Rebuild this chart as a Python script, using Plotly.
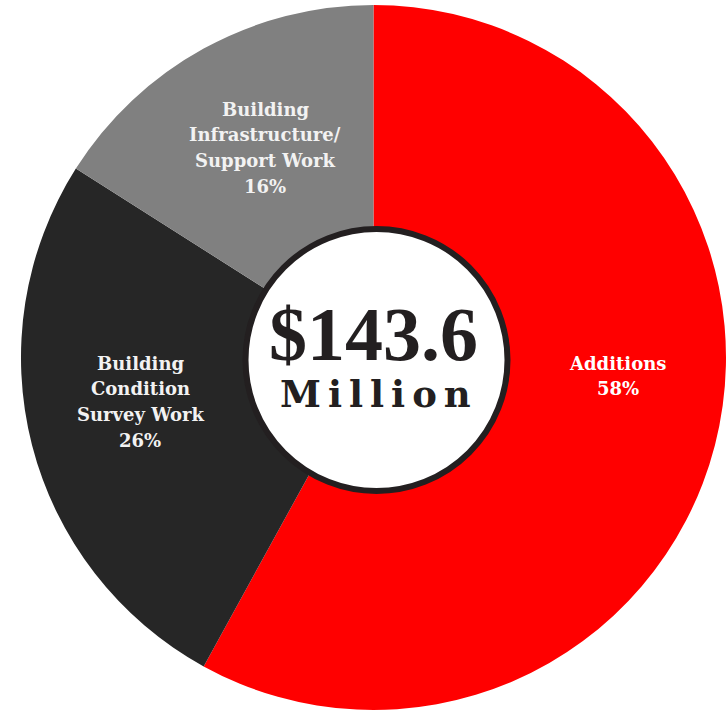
import plotly.graph_objects as go

# ---- data ----
categories = ["Additions", "Building Condition Survey Work", "Building Infrastructure/Support Work"]
label_lines = [["Additions"], ["Building", "Condition", "Survey Work"], ["Building", "Infrastructure/", "Support Work"]]
shares = [58, 26, 16]
colors = ["#FF0000", "#262626", "#808080"]
total_text = "$143.6"
unit_text = "Million"

W, H = 726, 717

fig = go.Figure()
fig.add_trace(go.Pie(
    labels=categories,
    values=shares,
    sort=False,
    direction="clockwise",
    rotation=0,
    hole=0.36,
    marker=dict(colors=colors, line=dict(width=0)),
    textinfo="none",
    hoverinfo="label+percent",
    domain=dict(x=[0.0289, 1.0], y=[1 - 712.5 / H, 1 - 2.5 / H]),
    showlegend=False,
))

# inner white circle with dark ring
cx, cy, r = 376.5, 360.0, 131.0
fig.add_shape(type="circle", xref="paper", yref="paper",
              x0=(cx - r) / W, x1=(cx + r) / W,
              y0=1 - (cy + r) / H, y1=1 - (cy - r) / H,
              fillcolor="white", line=dict(color="#231F20", width=6), layer="above")

# slice labels (one annotation per line)
label_pos = [(617.5, 363.0, "#FFFFFF"), (140.0, 363.0, "#F2F2F2"), (265.0, 109.0, "#F2F2F2")]
line_gap = 25.8
for lines, val, (px, py, col) in zip(label_lines, shares, label_pos):
    all_lines = lines + [f"{val}%"]
    for i, t in enumerate(all_lines):
        fig.add_annotation(x=px / W, y=1 - (py + i * line_gap) / H, xref="paper", yref="paper",
                           text=f"<b>{t}</b>", showarrow=False, xanchor="center", yanchor="middle",
                           font=dict(family="DejaVu Serif", size=18, color=col))

# center text
fig.add_annotation(x=373.0 / W, y=1 - 334.0 / H, xref="paper", yref="paper",
                   text=f"<b>{total_text}</b>", showarrow=False, xanchor="center", yanchor="middle",
                   font=dict(family="Liberation Serif", size=76, color="#231F20"))
fig.add_annotation(x=379.0 / W, y=1 - 394.0 / H, xref="paper", yref="paper",
                   text=f"<b><span style='letter-spacing:7px'>{unit_text}</span></b>", showarrow=False,
                   xanchor="center", yanchor="middle",
                   font=dict(family="DejaVu Serif", size=37, color="#231F20"))

fig.update_layout(width=W, height=H, margin=dict(l=0, r=0, t=0, b=0),
                  paper_bgcolor="white", plot_bgcolor="white", showlegend=False)

fig.write_html("out.html", config={"displayModeBar": False},
               post_script="document.body.style.margin='0';document.body.style.overflow='hidden';")
